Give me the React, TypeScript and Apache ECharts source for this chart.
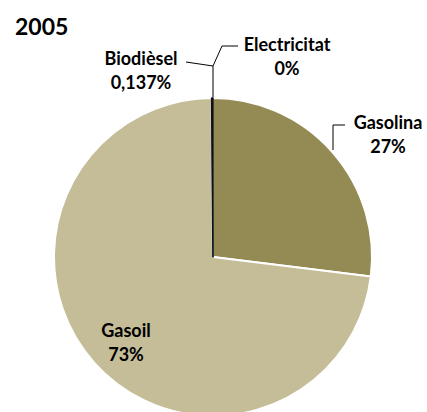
import React, { useEffect, useRef } from "react";
import * as echarts from "echarts";

const title = "2005";
const categories = ["Gasolina", "Gasoil", "Electricitat", "Biodièsel"];
const values = [27, 73, 0, 0.137];
const colors = ["#948A54", "#C4BD97", "#4BACC6", "#111111"];

const FONT = "Lato";

export default function App() {
  const ref = useRef<HTMLDivElement>(null);
  useEffect(() => {
    if (!ref.current) return;
    const chart = echarts.init(ref.current, null, { renderer: "svg" });
    const fmt = (v: number) => String(v).replace(".", ",") + "%";
    const labelPos: Record<string, { x: number; y: number; pts?: number[][] }> = {
      Gasolina: { x: 388, y: 134, pts: [[345, 125], [333, 125], [333, 150]] },
      Gasoil: { x: 126, y: 342 },
      Electricitat: { x: 287, y: 56, pts: [[238, 46], [222, 46], [213, 66]] },
      "Biodièsel": { x: 141, y: 70, pts: [[186, 62], [213, 66], [213, 99]] },
    };
    const data = categories.map((name, i) => {
      const big = i < 2;
      return {
        name,
        value: values[i],
        itemStyle: {
          color: colors[i],
          borderColor: big ? "#ffffff" : colors[i],
          borderWidth: big ? 2 : name === "Biodièsel" ? 1.6 : 1,
        },
        label: { position: name === "Gasoil" ? "inside" : "outside" },
        labelLine: { show: name !== "Gasoil" },
      };
    });
    chart.setOption({
      animation: false,
      title: {
        text: title,
        left: 10,
        top: 9,
        textStyle: { fontFamily: FONT, fontSize: 23, fontWeight: "bold", color: "#000" },
      },
      series: [
        {
          type: "pie",
          center: [213, 257],
          radius: 159,
          startAngle: 90,
          clockwise: true,
          silent: true,
          avoidLabelOverlap: false,
          emphasis: { disabled: true },
          data,
          label: {
            show: true,
            formatter: (p: any) => p.name + "\n" + fmt(p.value),
            fontFamily: FONT,
            fontSize: 18,
            fontWeight: "bold",
            color: "#000",
            lineHeight: 24.5,
            align: "center",
          },
          labelLine: {
            show: true,
            lineStyle: { color: "#000", width: 1 },
          },
          labelLayout: (params: any) => {
            const name = categories[params.dataIndex];
            const p = labelPos[name];
            const out: any = { x: p.x, y: p.y, align: "center", verticalAlign: "middle" };
            if (p.pts) out.labelLinePoints = p.pts;
            return out;
          },
        },
      ],
    });
    return () => chart.dispose();
  }, []);
  return (
    <div
      ref={ref}
      style={{ position: "fixed", left: 0, top: 0, width: 427, height: 412, background: "#fff" }}
    />
  );
}
